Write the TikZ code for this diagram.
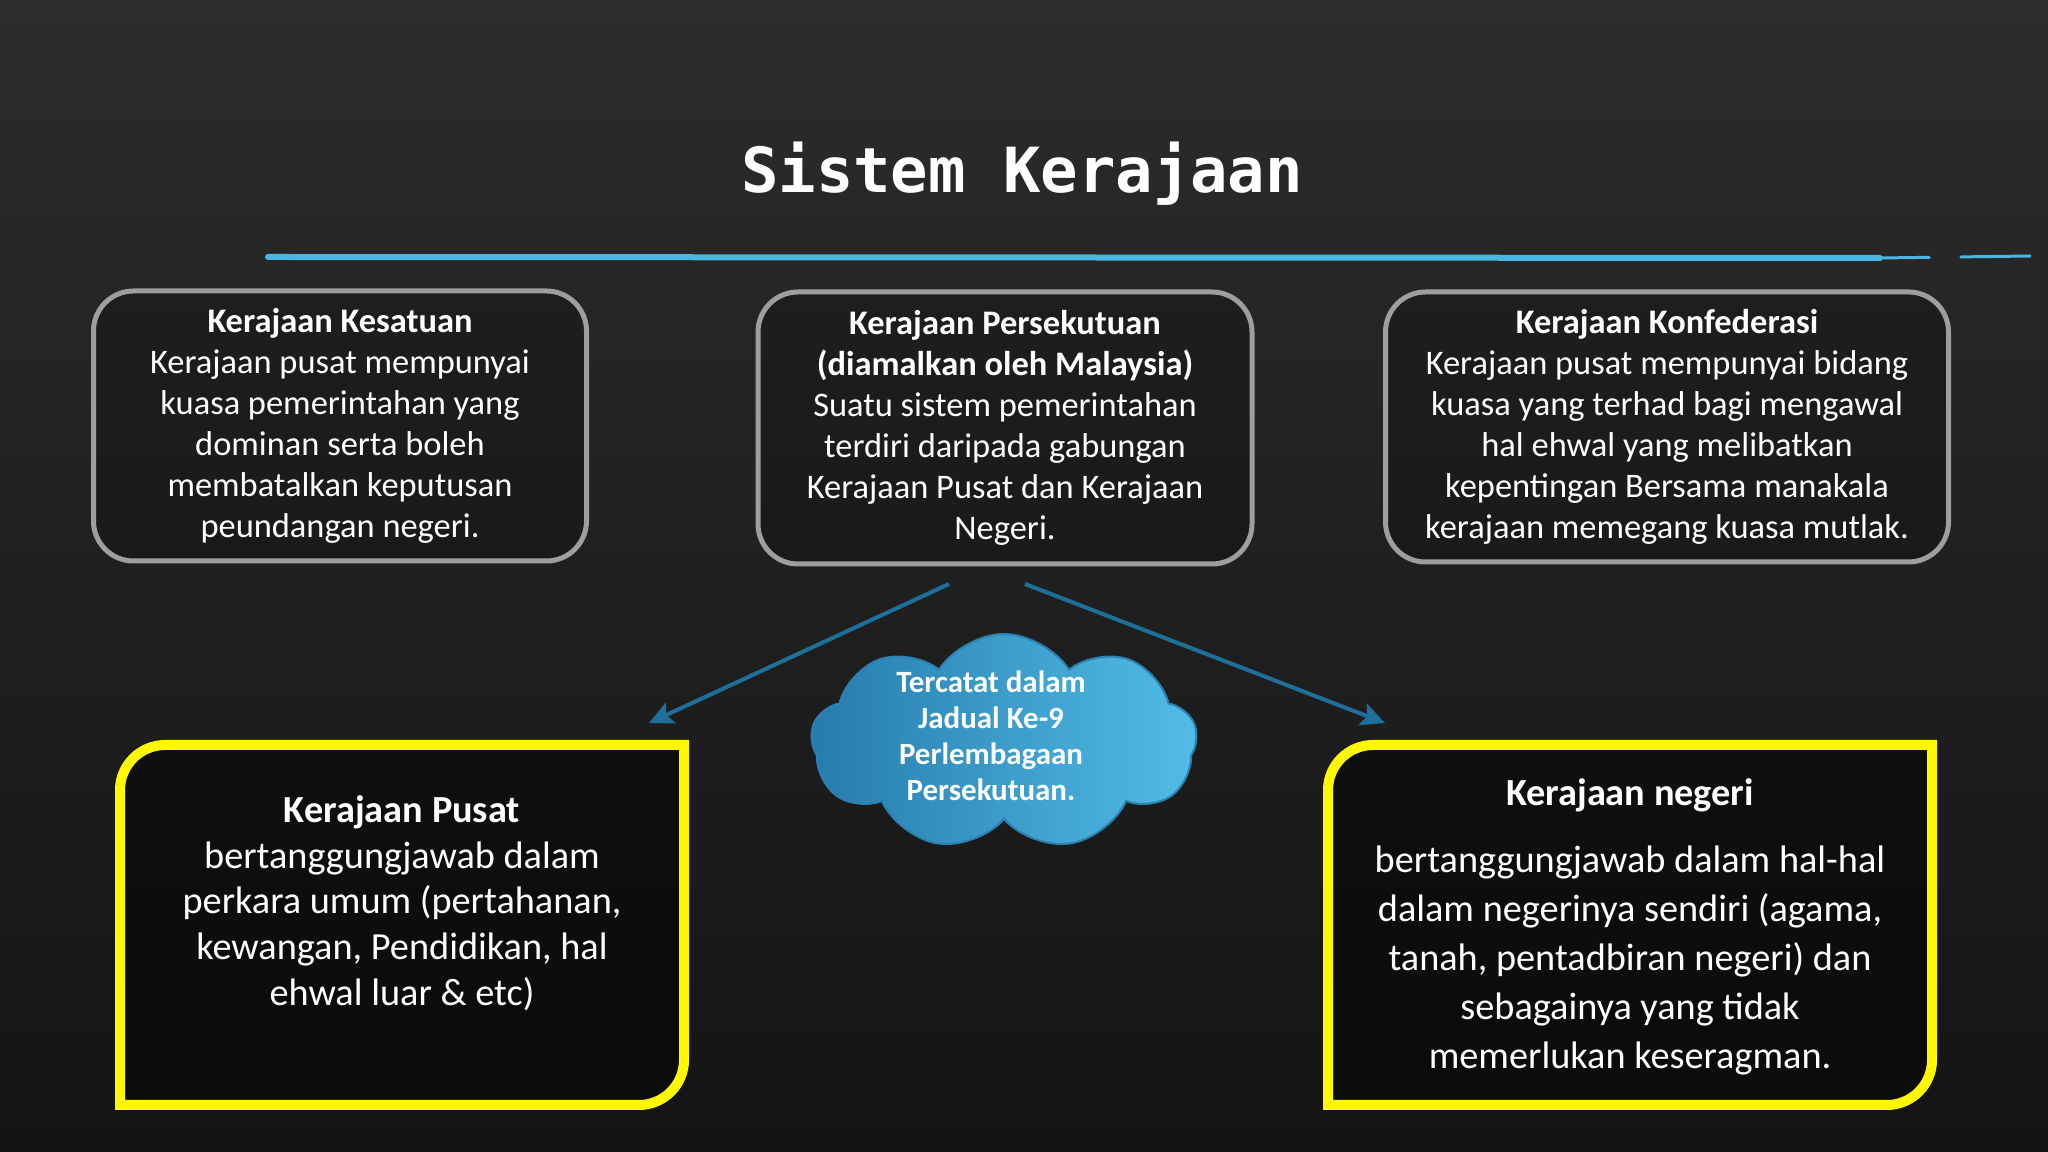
\documentclass[tikz,border=0pt]{standalone}
\usepackage{fontspec}
\setmainfont{Carlito}
\newfontfamily\titlefont{DejaVu Sans Mono}
\usetikzlibrary{calc,shapes.symbols,arrows.meta}

\definecolor{boardtop}{RGB}{44,44,44}
\definecolor{boardbottom}{RGB}{20,20,20}
\definecolor{chalkblue}{RGB}{76,182,226}
\definecolor{framegray}{RGB}{158,158,158}
\definecolor{arrowblue}{RGB}{30,112,155}
\definecolor{signyellow}{RGB}{255,248,0}
\definecolor{clouddark}{RGB}{38,124,172}
\definecolor{cloudlight}{RGB}{82,188,232}
\definecolor{cloudedge}{RGB}{44,128,178}

\def\yr{45}
\def\cutframe[#1](#2){\draw[#1] (#2.south west) -- ($(#2.north west)+(0,\yr)$) .. controls ($(#2.north west)+(0,0.45*\yr)$) and ($(#2.north west)+(0.45*\yr,0)$) .. ($(#2.north west)+(\yr,0)$) -- (#2.north east) -- ($(#2.south east)+(0,-\yr)$) .. controls ($(#2.south east)+(0,-0.45*\yr)$) and ($(#2.south east)+(-0.45*\yr,0)$) .. ($(#2.south east)+(-\yr,0)$) -- cycle;}

\tikzset{
  graybox/.style={draw=framegray, line width=0.5mm, fill=black, fill opacity=0.2, text opacity=1,
    rounded corners=4mm, minimum height=27mm, inner sep=0pt, outer sep=0pt,
    text=white, align=center, font=\fontsize{9.8}{11.7}\selectfont},
  yframe/.style={rectangle, minimum width=#1, minimum height=36mm, inner sep=0pt, outer sep=0pt},
  yline/.style={draw=signyellow, line width=1mm, fill=black, fill opacity=0.45},
  ytext/.style={text=white, align=center, font=\fontsize{10.9}{13}\selectfont},
  arr/.style={draw=arrowblue, line width=0.4mm, -{Stealth[length=2.4mm,width=2.3mm,inset=0.5mm]}},
  chalk/.style={draw=chalkblue, line width=0.6mm, line cap=round}
}

\begin{document}
\begin{tikzpicture}[x=0.1mm, y=-0.1mm]
			%%%%% BOARD %%%%%
			\useasboundingbox (0,0) rectangle (2048,1152);
			\shade[top color=boardtop, bottom color=boardbottom] (0,0) rectangle (2048,1152);
			
			\node[anchor=base, text=white, font=\titlefont\bfseries\fontsize{17.7}{20}\selectfont] (title) at (1022,193) {Sistem Kerajaan};
			
			\coordinate (rulewest) at (268,257);
			\coordinate (rulemid) at (1880,258);
			\coordinate (ruleeast) at (2030,256);
			\draw[chalk] (rulewest) -- (rulemid);
			\draw[chalk, line width=0.3mm, dash pattern=on 14 off 9 on 30 off 12] (rulemid) -- (ruleeast);
			
			%%%%% TOP ROW %%%%%
			\node[graybox, minimum width=49.3mm] (kesatuan) at (340,426) {\textbf{Kerajaan Kesatuan}\\Kerajaan pusat mempunyai\\kuasa pemerintahan yang\\dominan serta boleh\\membatalkan keputusan\\peundangan negeri.};
			\node[graybox, minimum width=49.4mm, minimum height=27.2mm] (persekutuan) at (1005,428) {\textbf{Kerajaan Persekutuan}\\\textbf{(diamalkan oleh Malaysia)}\\Suatu sistem pemerintahan\\terdiri daripada gabungan\\Kerajaan Pusat dan Kerajaan\\Negeri.};
			\node[graybox, minimum width=56.3mm] (konfederasi) at (1667,427) {\textbf{Kerajaan Konfederasi}\\Kerajaan pusat mempunyai bidang\\kuasa yang terhad bagi mengawal\\hal ehwal yang melibatkan\\kepentingan Bersama manakala\\kerajaan memegang kuasa mutlak.};
			
			%%%%% BOTTOM ROW %%%%%
			\node[yframe=56.4mm] (pusat) at (402,925) {};
			\cutframe[yline](pusat);
			\node[ytext] (pusattext) at (402,903) {\textbf{Kerajaan Pusat}\\bertanggungjawab dalam\\perkara umum (pertahanan,\\kewangan, Pendidikan, hal\\ehwal luar \& etc)};
			
			\node[yframe=60.4mm] (negeri) at (1630,925) {};
			\cutframe[yline](negeri);
			\node[ytext, font=\fontsize{10.9}{14}\selectfont] (negeritext) at (1630,927) {\textbf{Kerajaan negeri}\\[5pt]bertanggungjawab dalam hal-hal\\dalam negerinya sendiri (agama,\\tanah, pentadbiran negeri) dan\\sebagainya yang tidak\\memerlukan keseragman.};
			
			%%%%% CLOUD %%%%%
			\node[cloud, cloud puffs=9, cloud puff arc=115, aspect=1.8, inner sep=0pt, minimum width=38.6mm, minimum height=21.6mm,
			      left color=clouddark, right color=cloudlight, draw=cloudedge, line width=0.2mm] (jadual) at (1004,742) {};
			\node[text=white, align=center, font=\bfseries\fontsize{8.8}{10.2}\selectfont] (jadualtext) at (991,736) {Tercatat dalam\\Jadual Ke-9\\Perlembagaan\\Persekutuan.};
			
			\draw[arr] ($(persekutuan.south)+(-56,20)$) -- ($(pusat.north east)+(-35,-22)$);
			\draw[arr] ($(persekutuan.south)+(20,20)$) -- ($(negeri.north west)+(57,-22)$);
\end{tikzpicture}
\end{document}
